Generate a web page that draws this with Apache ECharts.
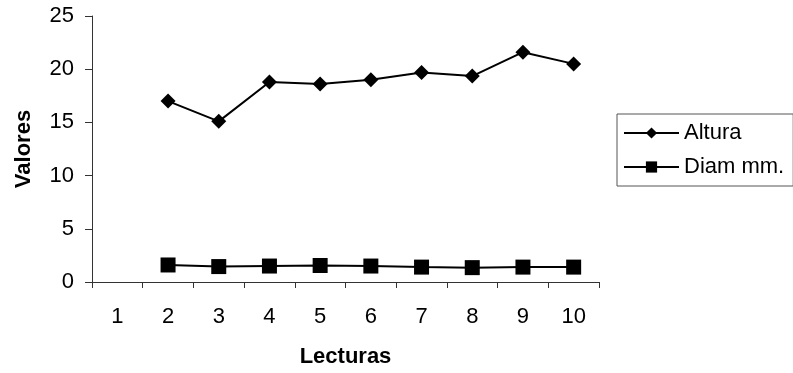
<!DOCTYPE html>
<html>
<head>
<meta charset="utf-8">
<script src="https://cdn.jsdelivr.net/npm/echarts@6/dist/echarts.min.js"></script>
<style>
html,body{margin:0;padding:0;background:#fff;}
#chart{width:793px;height:373px;}
</style>
</head>
<body>
<div id="chart"></div>
<script>
var categories = ['1','2','3','4','5','6','7','8','9','10'];
var altura = [null, 17.0, 15.1, 18.8, 18.6, 19.0, 19.7, 19.35, 21.6, 20.5];
var diam = [null, 1.6, 1.45, 1.5, 1.55, 1.5, 1.4, 1.35, 1.4, 1.4];
var yTicks = [0, 5, 10, 15, 20, 25];

var font = '"Liberation Sans", Arial, sans-serif';
var axisColor = '#333';
var chart = echarts.init(document.getElementById('chart'), null, {renderer: 'canvas'});
chart.setOption({
  animation: false,
  backgroundColor: '#fff',
  textStyle: {fontFamily: font, color: '#000'},
  grid: {left: 92, right: 194, top: 16, bottom: 89, containLabel: false},
  legend: {
    left: 617, top: 114,
    orient: 'vertical',
    itemWidth: 55, itemHeight: 14, itemGap: 12,
    padding: [8, 9, 8, 6],
    borderColor: '#555', borderWidth: 1,
    textStyle: {fontFamily: font, fontSize: 22, color: '#000'},
    data: ['Altura', 'Diam mm.']
  },
  xAxis: {
    type: 'category',
    data: categories,
    boundaryGap: true,
    name: 'Lecturas',
    nameLocation: 'middle',
    nameGap: 64,
    nameTextStyle: {fontFamily: font, fontSize: 22, fontWeight: 'bold', color: '#000'},
    axisLine: {lineStyle: {color: axisColor, width: 1}},
    axisTick: {show: true, inside: false, length: 6, lineStyle: {color: axisColor}},
    axisLabel: {fontFamily: font, fontSize: 22, color: '#000', margin: 24},
    splitLine: {show: false}
  },
  yAxis: {
    type: 'value',
    min: yTicks[0], max: yTicks[yTicks.length - 1], interval: 5,
    name: 'Valores',
    nameLocation: 'middle',
    nameGap: 57,
    nameTextStyle: {fontFamily: font, fontSize: 22, fontWeight: 'bold', color: '#000'},
    axisLine: {show: true, lineStyle: {color: axisColor, width: 1}},
    axisTick: {show: true, inside: false, length: 7, lineStyle: {color: axisColor}},
    axisLabel: {fontFamily: font, fontSize: 22, color: '#000', margin: 18},
    splitLine: {show: false}
  },
  series: [
    {
      name: 'Altura', type: 'line', data: altura,
      symbol: 'diamond', symbolSize: 15,
      lineStyle: {color: '#000', width: 2},
      itemStyle: {color: '#000'},
      connectNulls: false
    },
    {
      name: 'Diam mm.', type: 'line', data: diam,
      symbol: 'rect', symbolSize: 15,
      lineStyle: {color: '#000', width: 2},
      itemStyle: {color: '#000'},
      connectNulls: false
    }
  ]
});
</script>
</body>
</html>
